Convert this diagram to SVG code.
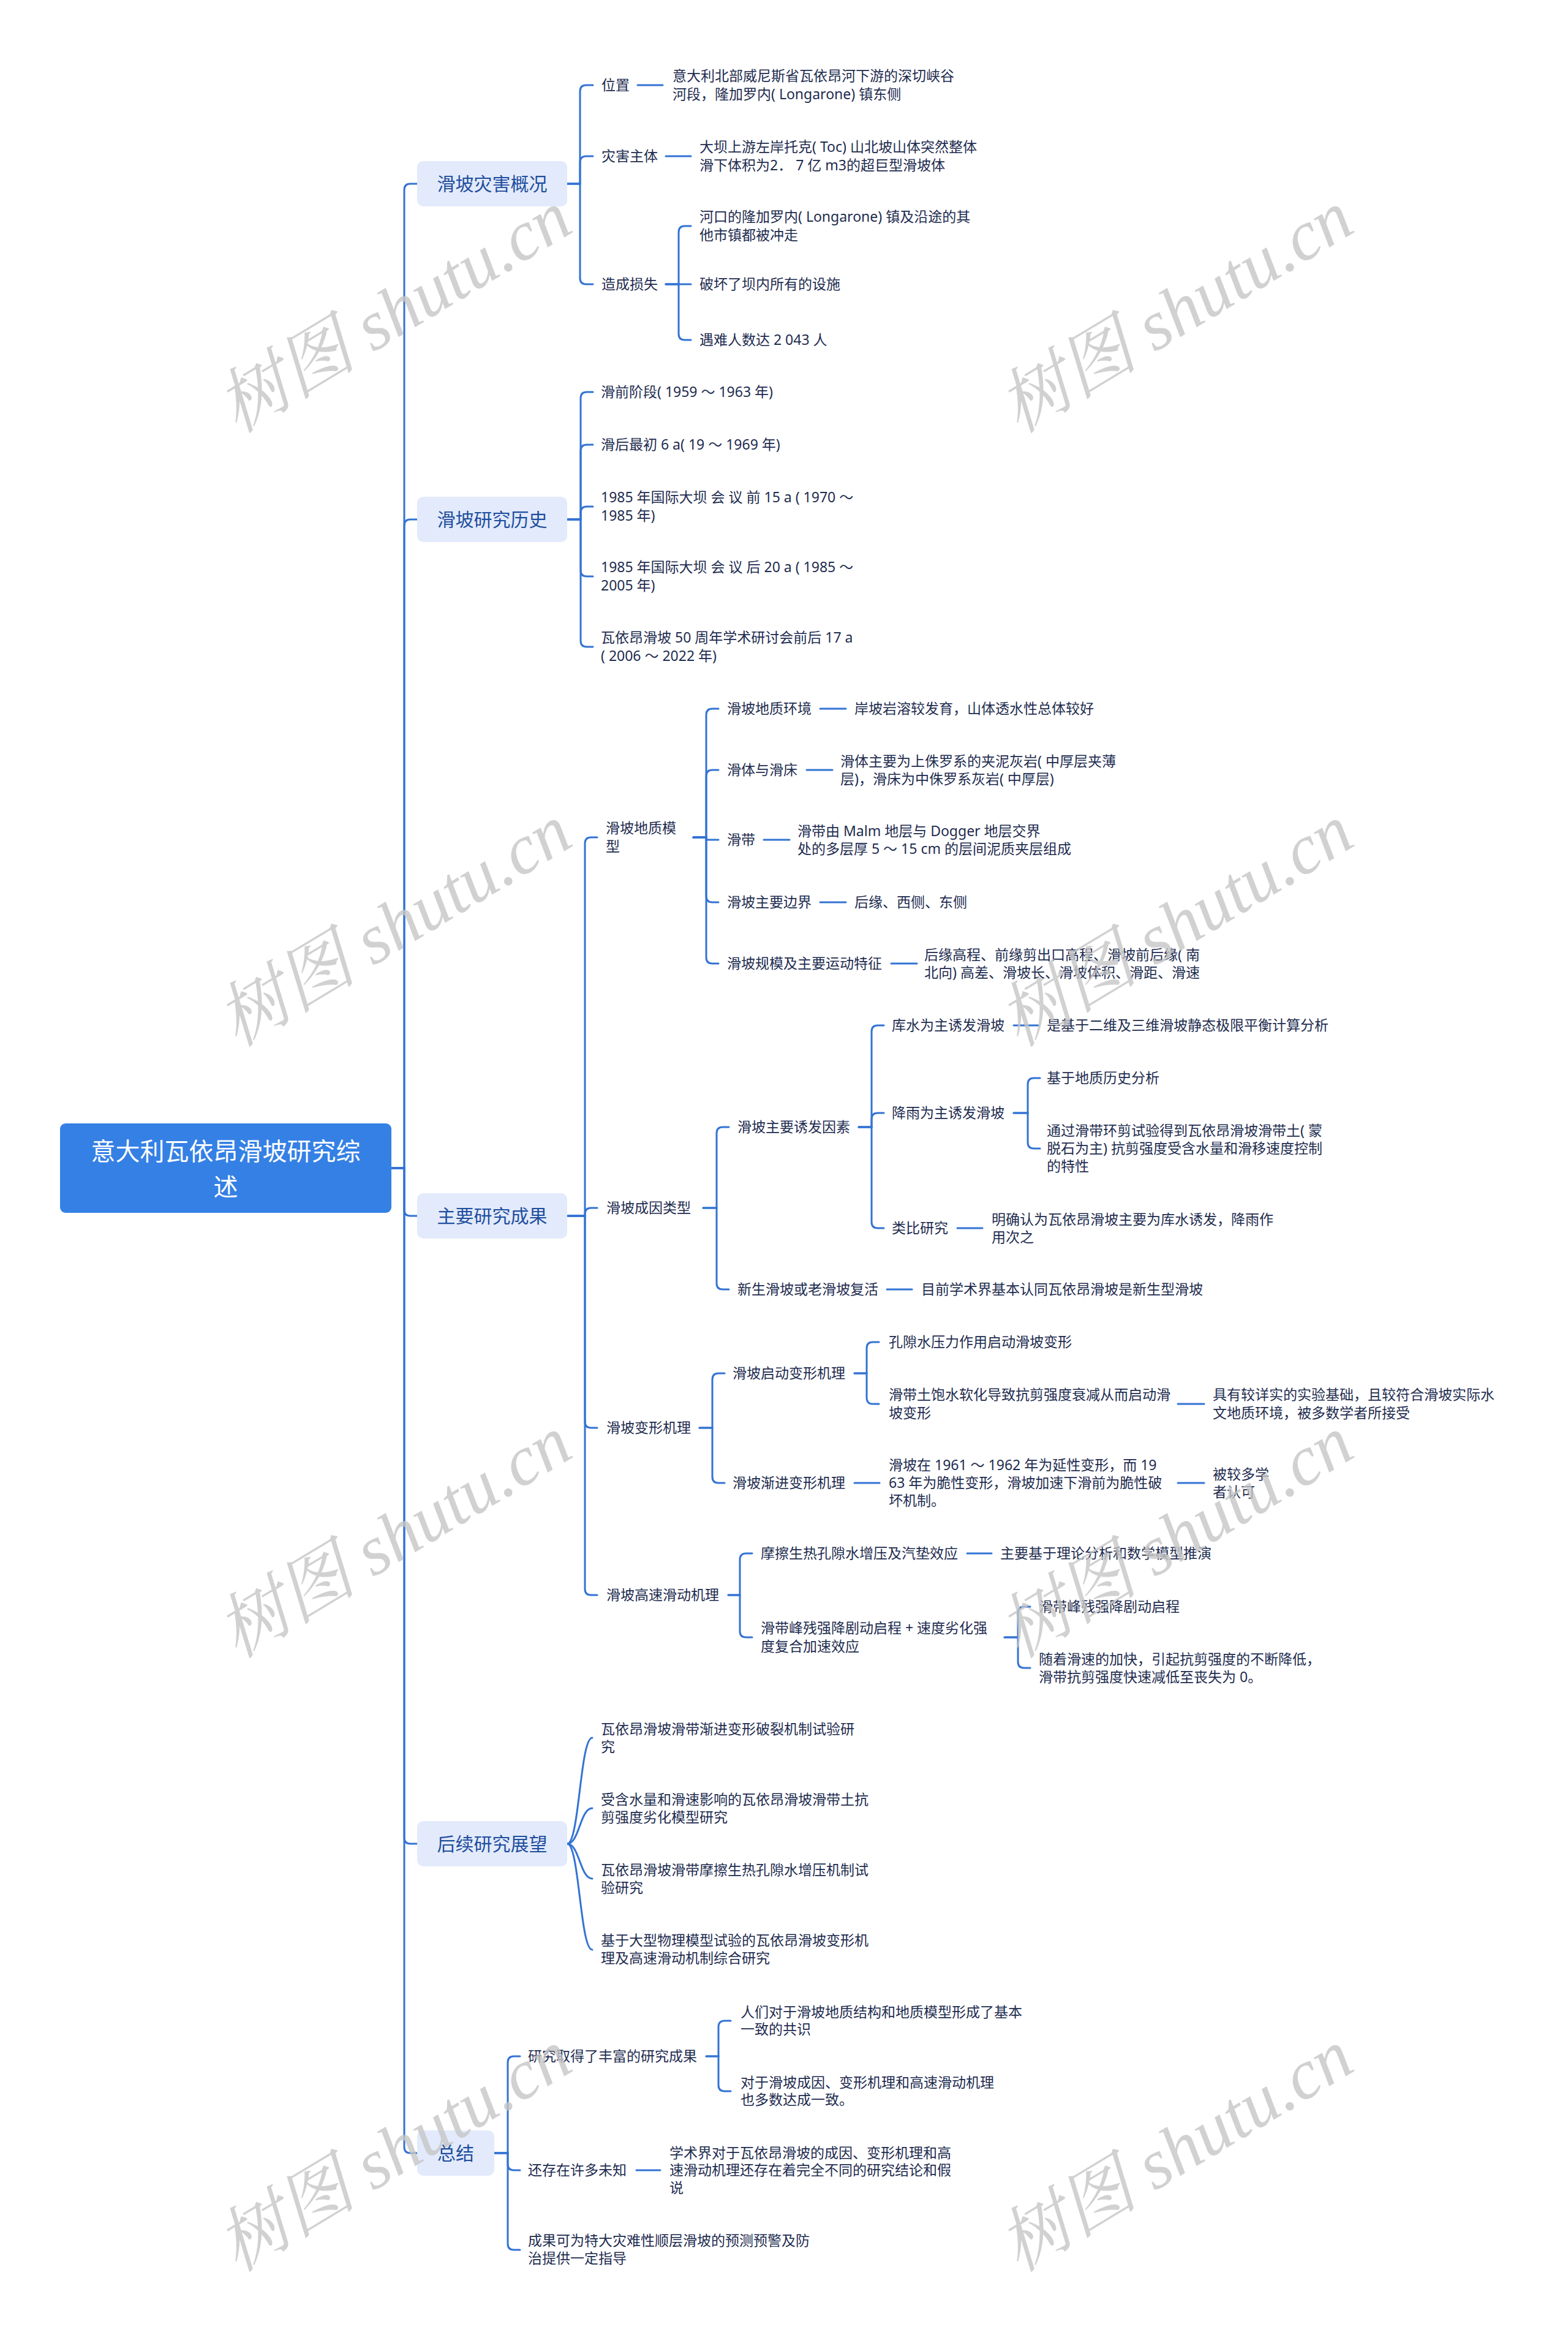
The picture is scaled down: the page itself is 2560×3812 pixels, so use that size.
<svg xmlns="http://www.w3.org/2000/svg" width="2560" height="3812" viewBox="0 0 2560 3812">
<style>
text{font-family:"Noto Sans","Noto Sans CJK SC",sans-serif;}
.t{font-size:23px;fill:#1e2c4f;}
.l1{font-size:30px;fill:#1f4e9e;text-anchor:middle;font-family:"Noto Sans CJK SC",sans-serif;}
.rt{font-size:40px;fill:#ffffff;text-anchor:middle;font-family:"Noto Sans CJK SC",sans-serif;}
.box{fill:#e2eafb;}
.c path{fill:none;stroke:#3373d4;stroke-width:3;stroke-linecap:round;}
.wm{font-family:"Liberation Serif","Noto Serif CJK SC","Noto Sans CJK SC",serif;font-style:italic;font-size:115px;fill:#c6c6c6;opacity:0.8;text-anchor:middle;}
</style>
<rect width="2560" height="3812" fill="#ffffff"/>
<g class="c" id="connectors">
<path d="M639 1907 H660 V310 Q660 300 670 300 H681"/>
<path d="M639 1907 H660 V858 Q660 848 670 848 H681"/>
<path d="M639 1907 H660 V1975 Q660 1985 670 1985 H681"/>
<path d="M639 1907 H660 V3000 Q660 3010 670 3010 H681"/>
<path d="M639 1907 H660 V3505 Q660 3515 670 3515 H681"/>
<path d="M926 300 H947 V149 Q947 139 957 139 H968"/>
<path d="M926 300 H947 V265 Q947 255 957 255 H968"/>
<path d="M926 300 H947 V454 Q947 464 957 464 H968"/>
<path d="M1041 139 H1082"/>
<path d="M1087 255 H1128"/>
<path d="M1087 464 H1108 V379 Q1108 369 1118 369 H1128"/>
<path d="M1087 464 H1128"/>
<path d="M1087 464 H1108 V545 Q1108 555 1118 555 H1128"/>
<path d="M926 848 H948 V650 Q948 640 958 640 H968"/>
<path d="M926 848 H948 V736 Q948 726 958 726 H968"/>
<path d="M926 848 H948 V837 Q948 827 958 827 H968"/>
<path d="M926 848 H948 V931 Q948 941 958 941 H968"/>
<path d="M926 848 H948 V1046 Q948 1056 958 1056 H968"/>
<path d="M926 1985 H955 V1377 Q955 1367 965 1367 H975"/>
<path d="M926 1985 H955 V1982 Q955 1972 965 1972 H975"/>
<path d="M926 1985 H955 V2321 Q955 2331 965 2331 H975"/>
<path d="M926 1985 H955 V2594 Q955 2604 965 2604 H975"/>
<path d="M1132 1367 H1153 V1167 Q1153 1157 1163 1157 H1173"/>
<path d="M1132 1367 H1153 V1267 Q1153 1257 1163 1257 H1173"/>
<path d="M1132 1367 H1153 V1371 H1173"/>
<path d="M1132 1367 H1153 V1463 Q1153 1473 1163 1473 H1173"/>
<path d="M1132 1367 H1153 V1563 Q1153 1573 1163 1573 H1173"/>
<path d="M1339 1157 H1381"/>
<path d="M1317 1257 H1359"/>
<path d="M1247 1371 H1289"/>
<path d="M1339 1473 H1381"/>
<path d="M1455 1573 H1497"/>
<path d="M1148 1972 H1170 V1850 Q1170 1840 1180 1840 H1190"/>
<path d="M1148 1972 H1170 V2095 Q1170 2105 1180 2105 H1190"/>
<path d="M1448 2105 H1489"/>
<path d="M1402 1840 H1423 V1684 Q1423 1674 1433 1674 H1443"/>
<path d="M1402 1840 H1423 V1827 Q1423 1817 1433 1817 H1443"/>
<path d="M1402 1840 H1423 V1995 Q1423 2005 1433 2005 H1443"/>
<path d="M1655 1674 H1696"/>
<path d="M1563 2005 H1604"/>
<path d="M1655 1817 H1678 V1770 Q1678 1760 1688 1760 H1698"/>
<path d="M1655 1817 H1678 V1865 Q1678 1875 1688 1875 H1698"/>
<path d="M1142 2331 H1163 V2252 Q1163 2242 1173 2242 H1183"/>
<path d="M1142 2331 H1163 V2411 Q1163 2421 1173 2421 H1183"/>
<path d="M1395 2242 H1415 V2201 Q1415 2191 1425 2191 H1435"/>
<path d="M1395 2242 H1415 V2282 Q1415 2292 1425 2292 H1435"/>
<path d="M1923 2292 H1966"/>
<path d="M1395 2421 H1436"/>
<path d="M1923 2421 H1966"/>
<path d="M1189 2604 H1208 V2546 Q1208 2536 1218 2536 H1228"/>
<path d="M1189 2604 H1208 V2663 Q1208 2673 1218 2673 H1228"/>
<path d="M1579 2536 H1619"/>
<path d="M1640 2673 H1662 V2633 Q1662 2623 1672 2623 H1682"/>
<path d="M1640 2673 H1662 V2713 Q1662 2723 1672 2723 H1682"/>
<path d="M926 3010 C946 3010 947 2837 967 2837"/>
<path d="M926 3010 C946 3010 947 2952 967 2952"/>
<path d="M926 3010 C946 3010 947 3067 967 3067"/>
<path d="M926 3010 C946 3010 947 3183 967 3183"/>
<path d="M807 3515 H829 V3367 Q829 3357 839 3357 H849"/>
<path d="M807 3515 H829 V3533 Q829 3543 839 3543 H849"/>
<path d="M807 3515 H829 V3663 Q829 3673 839 3673 H849"/>
<path d="M1153 3357 H1173 V3309 Q1173 3299 1183 3299 H1193"/>
<path d="M1153 3357 H1173 V3404 Q1173 3414 1183 3414 H1193"/>
<path d="M1039 3543 H1078"/>
</g>
<g id="root"><rect x="98" y="1834" width="541" height="146" rx="9" fill="#3580e5"/><text class="rt" x="368.5" y="1894">意大利瓦依昂滑坡研究综</text><text class="rt" x="368.5" y="1952">述</text></g>
<g id="n1"><rect class="box" x="681" y="263" width="245" height="74" rx="10"/><text class="l1" x="803.5" y="311">滑坡灾害概况</text></g>
<g id="n2"><rect class="box" x="681" y="811" width="245" height="74" rx="10"/><text class="l1" x="803.5" y="859">滑坡研究历史</text></g>
<g id="n3"><rect class="box" x="681" y="1948" width="245" height="74" rx="10"/><text class="l1" x="803.5" y="1996">主要研究成果</text></g>
<g id="n4"><rect class="box" x="681" y="2973" width="245" height="74" rx="10"/><text class="l1" x="803.5" y="3021">后续研究展望</text></g>
<g id="n5"><rect class="box" x="681" y="3478" width="126" height="74" rx="10"/><text class="l1" x="744" y="3526">总结</text></g>
<g id="n1-1"><text class="t" x="982" y="147">位置</text></g>
<g id="n1-1-1"><text class="t" x="1098" y="132">意大利北部威尼斯省瓦依昂河下游的深切峡谷</text><text class="t" x="1098" y="162">河段，隆加罗内( Longarone) 镇东侧</text></g>
<g id="n1-2"><text class="t" x="982" y="263">灾害主体</text></g>
<g id="n1-2-1"><text class="t" x="1142" y="248">大坝上游左岸托克( Toc) 山北坡山体突然整体</text><text class="t" x="1142" y="278">滑下体积为2． 7 亿 m3的超巨型滑坡体</text></g>
<g id="n1-3"><text class="t" x="982" y="472">造成损失</text></g>
<g id="n1-3-1"><text class="t" x="1142" y="362">河口的隆加罗内( Longarone) 镇及沿途的其</text><text class="t" x="1142" y="392">他市镇都被冲走</text></g>
<g id="n1-3-2"><text class="t" x="1142" y="472">破坏了坝内所有的设施</text></g>
<g id="n1-3-3"><text class="t" x="1142" y="563">遇难人数达 2 043 人</text></g>
<g id="n2-1"><text class="t" x="981" y="648">滑前阶段( 1959 ～ 1963 年)</text></g>
<g id="n2-2"><text class="t" x="981" y="734">滑后最初 6 a( 19 ～ 1969 年)</text></g>
<g id="n2-3"><text class="t" x="981" y="820">1985 年国际大坝 会 议 前 15 a ( 1970 ～</text><text class="t" x="981" y="850">1985 年)</text></g>
<g id="n2-4"><text class="t" x="981" y="934">1985 年国际大坝 会 议 后 20 a ( 1985 ～</text><text class="t" x="981" y="964">2005 年)</text></g>
<g id="n2-5"><text class="t" x="981" y="1049">瓦依昂滑坡 50 周年学术研讨会前后 17 a</text><text class="t" x="981" y="1079">( 2006 ～ 2022 年)</text></g>
<g id="n3-1"><text class="t" x="989" y="1360">滑坡地质模</text><text class="t" x="989" y="1390">型</text></g>
<g id="n3-1-1"><text class="t" x="1187" y="1165">滑坡地质环境</text></g>
<g id="n3-1-1-1"><text class="t" x="1395" y="1165">岸坡岩溶较发育，山体透水性总体较好</text></g>
<g id="n3-1-2"><text class="t" x="1187" y="1265">滑体与滑床</text></g>
<g id="n3-1-2-1"><text class="t" x="1372" y="1251">滑体主要为上侏罗系的夹泥灰岩( 中厚层夹薄</text><text class="t" x="1372" y="1280">层)，滑床为中侏罗系灰岩( 中厚层)</text></g>
<g id="n3-1-3"><text class="t" x="1187" y="1379">滑带</text></g>
<g id="n3-1-3-1"><text class="t" x="1302" y="1365">滑带由 Malm 地层与 Dogger 地层交界</text><text class="t" x="1302" y="1394">处的多层厚 5 ～ 15 cm 的层间泥质夹层组成</text></g>
<g id="n3-1-4"><text class="t" x="1187" y="1481">滑坡主要边界</text></g>
<g id="n3-1-4-1"><text class="t" x="1395" y="1481">后缘、西侧、东侧</text></g>
<g id="n3-1-5"><text class="t" x="1187" y="1581">滑坡规模及主要运动特征</text></g>
<g id="n3-1-5-1"><text class="t" x="1509" y="1567">后缘高程、前缘剪出口高程、滑坡前后缘( 南</text><text class="t" x="1509" y="1596">北向) 高差、滑坡长、滑坡体积、滑距、滑速</text></g>
<g id="n3-2"><text class="t" x="990" y="1980">滑坡成因类型</text></g>
<g id="n3-2-1"><text class="t" x="1204" y="1848">滑坡主要诱发因素</text></g>
<g id="n3-2-1-1"><text class="t" x="1456" y="1682">库水为主诱发滑坡</text></g>
<g id="n3-2-1-1-1"><text class="t" x="1709" y="1682">是基于二维及三维滑坡静态极限平衡计算分析</text></g>
<g id="n3-2-1-2"><text class="t" x="1456" y="1825">降雨为主诱发滑坡</text></g>
<g id="n3-2-1-2-1"><text class="t" x="1709" y="1768">基于地质历史分析</text></g>
<g id="n3-2-1-2-2"><text class="t" x="1709" y="1854">通过滑带环剪试验得到瓦依昂滑坡滑带土( 蒙</text><text class="t" x="1709" y="1883">脱石为主) 抗剪强度受含水量和滑移速度控制</text><text class="t" x="1709" y="1912">的特性</text></g>
<g id="n3-2-1-3"><text class="t" x="1456" y="2013">类比研究</text></g>
<g id="n3-2-1-3-1"><text class="t" x="1619" y="1999">明确认为瓦依昂滑坡主要为库水诱发，降雨作</text><text class="t" x="1619" y="2028">用次之</text></g>
<g id="n3-2-2"><text class="t" x="1204" y="2113">新生滑坡或老滑坡复活</text></g>
<g id="n3-2-2-1"><text class="t" x="1504" y="2113">目前学术界基本认同瓦依昂滑坡是新生型滑坡</text></g>
<g id="n3-3"><text class="t" x="990" y="2339">滑坡变形机理</text></g>
<g id="n3-3-1"><text class="t" x="1196" y="2250">滑坡启动变形机理</text></g>
<g id="n3-3-1-1"><text class="t" x="1451" y="2199">孔隙水压力作用启动滑坡变形</text></g>
<g id="n3-3-1-2"><text class="t" x="1451" y="2285">滑带土饱水软化导致抗剪强度衰减从而启动滑</text><text class="t" x="1451" y="2315">坡变形</text></g>
<g id="n3-3-1-2-1"><text class="t" x="1980" y="2285">具有较详实的实验基础，且较符合滑坡实际水</text><text class="t" x="1980" y="2315">文地质环境，被多数学者所接受</text></g>
<g id="n3-3-2"><text class="t" x="1196" y="2429">滑坡渐进变形机理</text></g>
<g id="n3-3-2-1"><text class="t" x="1451" y="2400">滑坡在 1961 ～ 1962 年为延性变形，而 19</text><text class="t" x="1451" y="2429">63 年为脆性变形，滑坡加速下滑前为脆性破</text><text class="t" x="1451" y="2458">坏机制。</text></g>
<g id="n3-3-2-1-1"><text class="t" x="1980" y="2415">被较多学</text><text class="t" x="1980" y="2444">者认可</text></g>
<g id="n3-4"><text class="t" x="990" y="2612">滑坡高速滑动机理</text></g>
<g id="n3-4-1"><text class="t" x="1242" y="2544">摩擦生热孔隙水增压及汽垫效应</text></g>
<g id="n3-4-1-1"><text class="t" x="1633" y="2544">主要基于理论分析和数学模型推演</text></g>
<g id="n3-4-2"><text class="t" x="1242" y="2666">滑带峰残强降剧动启程 + 速度劣化强</text><text class="t" x="1242" y="2696">度复合加速效应</text></g>
<g id="n3-4-2-1"><text class="t" x="1696" y="2631">滑带峰残强降剧动启程</text></g>
<g id="n3-4-2-2"><text class="t" x="1696" y="2717">随着滑速的加快，引起抗剪强度的不断降低，</text><text class="t" x="1696" y="2746">滑带抗剪强度快速减低至丧失为 0。</text></g>
<g id="n4-1"><text class="t" x="981" y="2831">瓦依昂滑坡滑带渐进变形破裂机制试验研</text><text class="t" x="981" y="2860">究</text></g>
<g id="n4-2"><text class="t" x="981" y="2946">受含水量和滑速影响的瓦依昂滑坡滑带土抗</text><text class="t" x="981" y="2975">剪强度劣化模型研究</text></g>
<g id="n4-3"><text class="t" x="981" y="3061">瓦依昂滑坡滑带摩擦生热孔隙水增压机制试</text><text class="t" x="981" y="3090">验研究</text></g>
<g id="n4-4"><text class="t" x="981" y="3176">基于大型物理模型试验的瓦依昂滑坡变形机</text><text class="t" x="981" y="3205">理及高速滑动机制综合研究</text></g>
<g id="n5-1"><text class="t" x="862" y="3365">研究取得了丰富的研究成果</text></g>
<g id="n5-1-1"><text class="t" x="1209" y="3293">人们对于滑坡地质结构和地质模型形成了基本</text><text class="t" x="1209" y="3321">一致的共识</text></g>
<g id="n5-1-2"><text class="t" x="1209" y="3408">对于滑坡成因、变形机理和高速滑动机理</text><text class="t" x="1209" y="3436">也多数达成一致。</text></g>
<g id="n5-2"><text class="t" x="862" y="3551">还存在许多未知</text></g>
<g id="n5-2-1"><text class="t" x="1093" y="3523">学术界对于瓦依昂滑坡的成因、变形机理和高</text><text class="t" x="1093" y="3551">速滑动机理还存在着完全不同的研究结论和假</text><text class="t" x="1093" y="3580">说</text></g>
<g id="n5-3"><text class="t" x="862" y="3666">成果可为特大灾难性顺层滑坡的预测预警及防</text><text class="t" x="862" y="3695">治提供一定指导</text></g>
<g id="watermark">
<text class="wm" x="644" y="548" transform="rotate(-31 644 510)">树图 shutu.cn</text>
<text class="wm" x="1920" y="548" transform="rotate(-31 1920 510)">树图 shutu.cn</text>
<text class="wm" x="644" y="1550" transform="rotate(-31 644 1512)">树图 shutu.cn</text>
<text class="wm" x="1920" y="1550" transform="rotate(-31 1920 1512)">树图 shutu.cn</text>
<text class="wm" x="644" y="2548" transform="rotate(-31 644 2510)">树图 shutu.cn</text>
<text class="wm" x="1920" y="2548" transform="rotate(-31 1920 2510)">树图 shutu.cn</text>
<text class="wm" x="644" y="3550" transform="rotate(-31 644 3512)">树图 shutu.cn</text>
<text class="wm" x="1920" y="3550" transform="rotate(-31 1920 3512)">树图 shutu.cn</text>
</g>
</svg>
